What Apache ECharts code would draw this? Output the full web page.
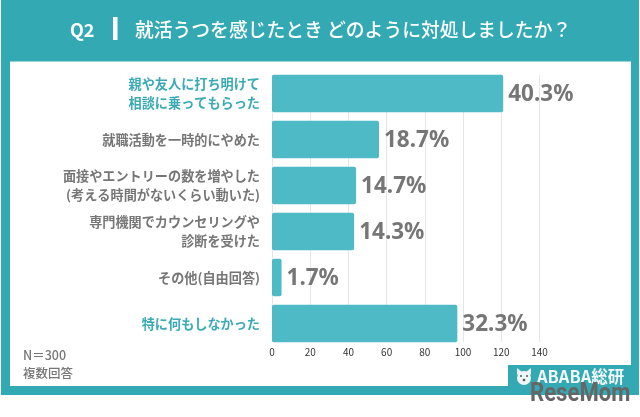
<!DOCTYPE html>
<html><head><meta charset="utf-8">
<style>html,body{margin:0;padding:0;background:#fff}#c{width:640px;height:417px}</style>
<script src="https://cdn.jsdelivr.net/npm/echarts@6/dist/echarts.min.js"></script></head>
<body><div id="c"></div>
<script>
const categories = ['親や友人に打ち明けて\n相談に乗ってもらった','就職活動を一時的にやめた','面接やエントリーの数を増やした\n(考える時間がないくらい動いた)','専門機関でカウンセリングや\n診断を受けた','その他(自由回答)','特に何もしなかった'];
const counts = [121,56,44,43,5,97];
const percentLabels = ['40.3%','18.7%','14.7%','14.3%','1.7%','32.3%'];
const highlighted = [0,5];
const xTicks = {min:0,max:140,interval:20};
const titleQ = 'Q2';
const titleText = '就活うつを感じたとき どのように対処しましたか？';
const notes = 'N＝300\n複数回答';
const teal='#32a9b3', cjk='"Noto Sans CJK JP","Noto Sans",sans-serif';
const chart = echarts.init(document.getElementById('c'),null,{renderer:'canvas'});
chart.setOption({
  animation:false,
  backgroundColor:'#fff',
  graphic:[
    {type:'rect',z:-10,silent:true,shape:{x:1,y:0,width:638,height:395},style:{fill:teal}},
    {type:'rect',z:-9,silent:true,shape:{x:10,y:61.5,width:621,height:324.5},style:{fill:'#fff'}},
    {type:'rect',z:-8,silent:true,shape:{x:508,y:365,width:123,height:21},style:{fill:teal}},
    {type:'rect',z:10,silent:true,shape:{x:113,y:17,width:4.5,height:23},style:{fill:'#fff'}},
    {type:'text',z:10,silent:true,x:70,y:30,style:{text:titleQ,fill:'#fff',font:'700 18px '+cjk,textVerticalAlign:'middle'}},
    {type:'text',z:10,silent:true,x:135,y:30,style:{text:titleText,fill:'#fff',font:'500 18.8px '+cjk,textVerticalAlign:'middle'}},
    {type:'text',z:10,silent:true,x:23,y:364,style:{text:notes,fill:'#777',font:'500 12.5px '+cjk,lineHeight:18,textVerticalAlign:'middle'}},
    {type:'circle',z:10,silent:true,shape:{cx:524,cy:378,r:7},style:{fill:'#eef5f5'}},
    {type:'polygon',z:10,silent:true,shape:{points:[[517,375],[517,368],[522,372]]},style:{fill:'#eef5f5'}},
    {type:'polygon',z:10,silent:true,shape:{points:[[531,375],[531,368],[526,372]]},style:{fill:'#eef5f5'}},
    {type:'circle',z:11,silent:true,shape:{cx:521,cy:376,r:1},style:{fill:'#555'}},
    {type:'circle',z:11,silent:true,shape:{cx:527,cy:376,r:1},style:{fill:'#555'}},
    {type:'circle',z:11,silent:true,shape:{cx:524,cy:380,r:1.3},style:{fill:'#555'}},
    {type:'text',z:10,silent:true,x:537,y:377,style:{text:'ABABA総研',fill:'#f3f8f8',font:'700 16.5px '+cjk,textVerticalAlign:'middle'}},
    {type:'text',z:11,silent:true,x:530,y:394,scaleX:0.85,style:{text:'ReseMom',fill:'#666',font:'700 26px "Liberation Sans Narrow",Roboto,sans-serif',textVerticalAlign:'middle'}}
  ],
  grid:[
    {left:272,width:267.5,top:75,height:267},
    {left:272,width:267.5,top:70.5,height:276}
  ],
  xAxis:[
    {gridIndex:0,type:'value',...xTicks,axisLine:{show:false},axisTick:{show:false},
     axisLabel:{color:'#333',fontSize:10,margin:5,fontFamily:cjk,hideOverlap:false},splitLine:{show:true,lineStyle:{color:'#e6e6e6',width:1}}},
    {gridIndex:1,type:'value',...xTicks,show:false,splitLine:{show:false}}
  ],
  yAxis:[
    {gridIndex:0,type:'value',show:false,min:0,max:1,splitLine:{show:false}},
    {gridIndex:1,type:'category',inverse:true,data:categories,axisLine:{show:false},axisTick:{show:false},
     axisLabel:{margin:12,fontSize:13.15,lineHeight:18.5,fontWeight:'bold',fontFamily:cjk,align:'right',
       color:(v,i)=>highlighted.includes(i)?'#3aaab4':'#767676'}}
  ],
  series:[{
    type:'bar',xAxisIndex:1,yAxisIndex:1,data:counts,barWidth:37.5,
    itemStyle:{color:'#4dbac6',borderRadius:2},
    label:{show:true,position:'right',distance:5,offset:[0,1],fontSize:22.5,fontWeight:'bold',color:'#767676',fontFamily:'"Noto Sans",'+cjk,
      formatter:p=>percentLabels[p.dataIndex]}
  }]
});
</script></body></html>
